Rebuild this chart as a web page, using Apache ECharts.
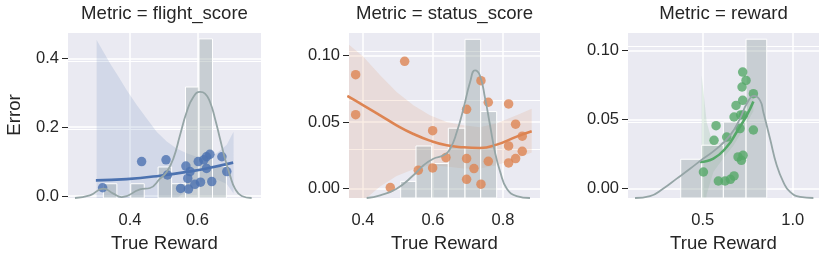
<!DOCTYPE html>
<html><head><meta charset="utf-8">
<script src="https://cdn.jsdelivr.net/npm/echarts@6/dist/echarts.min.js"></script>
<style>html,body{margin:0;padding:0;background:#fff}#c{width:830px;height:259px}</style>
</head><body><div id="c"></div>
<script>
// ---------- Panel 1: flight_score ----------
const flightTrue = [0.3189,0.4344,0.5067,0.5111,0.5656,0.5711,0.55,0.5733,0.5922,0.6089,0.6022,0.6189,0.6267,0.6367,0.6267,0.6422,0.6722,0.6867,0.5778];
const flightErr  = [0.024,0.100,0.105,0.061,0.087,0.051,0.022,0.020,0.034,0.040,0.100,0.105,0.114,0.121,0.080,0.042,0.114,0.071,0.071];
const flightFitX = [0.2989,0.39,0.4889,0.5878,0.6367,0.7056];
const flightFitY = [0.0455,0.049,0.059,0.073,0.082,0.097];
const flightBandX = [0.3011,0.3211,0.3411,0.3656,0.39,0.42,0.4489,0.4789,0.5089,0.5378,0.5678,0.5978,0.6267,0.6567,0.6867,0.7067];
const flightBandHi = [0.453,0.419,0.385,0.347,0.308,0.264,0.226,0.187,0.158,0.138,0.124,0.114,0.114,0.124,0.149,0.187];
const flightBandLo = [-0.362,-0.327,-0.291,-0.251,-0.21,-0.16,-0.116,-0.071,-0.036,-0.008,0.016,0.036,0.046,0.048,0.035,0.007];
const flightBins = [0.3211,0.3611,0.4022,0.4422,0.4833,0.5233,0.5644,0.6044,0.6444,0.6856];
const flightDensity = [1.04,0,1.04,0,2.26,1.04,8.09,11.6,2.3];
const flightKdeX = [0.237,0.2811,0.321,0.3507,0.3753,0.4297,0.4592,0.4889,0.5087,0.5284,0.5481,0.5679,0.5877,0.6074,0.6222,0.637,0.6519,0.6667,0.6814,0.6963,0.7111,0.7309,0.7604];
const flightKdeY = [0,0.19,0.68,0.32,0.07,0.63,0.73,1.41,1.90,2.87,4.57,6.27,7.36,7.73,7.61,7.0,5.78,4.32,2.87,1.65,0.68,0.15,0];
const flightXTicks = [0.4,0.6];
const flightYTicks = [0,0.2,0.4];

// ---------- Panel 2: status_score ----------
const statusTrue = [0.379,0.379,0.519,0.478,0.558,0.599,0.599,0.637,0.696,0.696,0.696,0.717,0.737,0.737,0.758,0.758,0.816,0.836,0.855,0.816,0.855,0.836,0.816];
const statusErr  = [0.0855,0.0555,0.0955,0.0008,0.0138,0.0155,0.0435,0.0233,0.0595,0.0225,0.007,0.015,0.081,0.0033,0.0648,0.0205,0.0635,0.0483,0.0393,0.032,0.028,0.0225,0.0193];
const statusFitX = [0.355,0.401,0.449,0.496,0.544,0.591,0.639,0.687,0.734,0.782,0.839,0.882];
const statusFitY = [0.0695,0.0625,0.055,0.0475,0.041,0.036,0.0325,0.031,0.0305,0.033,0.039,0.043];
const statusBandX = statusFitX;
const statusBandHi = [0.109,0.099,0.085,0.0725,0.0625,0.055,0.05,0.0475,0.046,0.049,0.055,0.06];
const statusBandLo = [-0.02,-0.009,0.0015,0.0095,0.0145,0.0175,0.0165,0.015,0.015,0.0175,0.0225,0.027];
const statusBins = [0.5076,0.5514,0.5962,0.6438,0.6914,0.7362,0.7819];
const statusDensity = [0.68,2.13,1.41,2.86,6.5,3.54];
const statusKdeX = [0.4105,0.449,0.496,0.544,0.573,0.601,0.630,0.649,0.668,0.687,0.706,0.720,0.734,0.749,0.763,0.777,0.792,0.811,0.839,0.877];
const statusKdeY = [0,0.11,0.38,0.93,1.34,1.61,1.75,2.02,2.70,3.66,4.75,5.23,5.02,4.07,2.98,1.88,1.07,0.38,0.08,0];
const statusXTicks = [0.4,0.6,0.8];
const statusYTicks = [0,0.05,0.1];

// ---------- Panel 3: reward ----------
const rewardTrue = [0.504,0.5629,0.5741,0.5870,0.6241,0.6333,0.6537,0.6741,0.6852,0.6741,0.7074,0.7111,0.7259,0.7185,0.7222,0.7407,0.7222,0.6963,0.7148,0.7241,0.7815,0.7815];
const rewardErr  = [0.012,0.0349,0.0455,0.0055,0.0055,0.0373,0.0067,0.0092,0.0602,0.0518,0.0434,0.0533,0.0533,0.0735,0.0843,0.0783,0.0639,0.0229,0.0205,0.0241,0.0687,0.0424];
const rewardFitX = [0.4852,0.5593,0.6333,0.6889,0.7444,0.7815];
const rewardFitY = [0.0193,0.0217,0.0301,0.041,0.053,0.0631];
const rewardBandX = [0.4944,0.5222,0.5593,0.6148,0.6704,0.7259,0.7815];
const rewardBandHi = [0.082,0.048,0.031,0.034,0.043,0.056,0.071];
const rewardBandLo = [-0.04,-0.004,0.012,0.022,0.031,0.043,0.056];
const rewardBins = [0.3778,0.4944,0.6148,0.7407,0.8556];
const rewardDensity = [1.02,1.39,2.0,4.18];
const rewardKdeX = [0.1241,0.2074,0.2815,0.3556,0.4296,0.5037,0.5778,0.6519,0.7074,0.7444,0.7852,0.8185,0.837,0.8741,0.9111,0.9481,0.9852,1.0407,1.1148];
const rewardKdeY = [0,0.05,0.25,0.51,0.77,1.04,1.30,1.65,2.09,2.48,2.69,2.57,2.26,1.56,0.86,0.42,0.16,0.03,0];
const rewardXTicks = [0.5,1.0];
const rewardYTicks = [0,0.05,0.1];

const FONT = '"Liberation Sans", Arial, sans-serif';
const TXT = '#262626';
const KDE_COLOR = '#95a5a6';

const panels = [
  {title:'Metric = flight_score', color:'#4C72B0', x:flightTrue, y:flightErr, fitX:flightFitX, fitY:flightFitY,
   bandX:flightBandX, bandHi:flightBandHi, bandLo:flightBandLo, bins:flightBins, dens:flightDensity, kdeX:flightKdeX, kdeY:flightKdeY,
   xTicks:flightXTicks, yTicks:flightYTicks, xr:[0.2163,0.7881], yr:[-0.0058,0.4764], xStep:0.2, yStep:0.2, yDec:1,
   secMax:12.1, secStep:5, left:68, width:193},
  {title:'Metric = status_score', color:'#DD8452', x:statusTrue, y:statusErr, fitX:statusFitX, fitY:statusFitY,
   bandX:statusBandX, bandHi:statusBandHi, bandLo:statusBandLo, bins:statusBins, dens:statusDensity, kdeX:statusKdeX, kdeY:statusKdeY,
   xTicks:statusXTicks, yTicks:statusYTicks, xr:[0.36,0.9057], yr:[-0.00705,0.1175], xStep:0.2, yStep:0.05, yDec:2,
   secMax:6.8, secStep:2, left:349, width:191},
  {title:'Metric = reward', color:'#55A868', x:rewardTrue, y:rewardErr, fitX:rewardFitX, fitY:rewardFitY,
   bandX:rewardBandX, bandHi:rewardBandHi, bandLo:rewardBandLo, bins:rewardBins, dens:rewardDensity, kdeX:rewardKdeX, kdeY:rewardKdeY,
   xTicks:rewardXTicks, yTicks:rewardYTicks, xr:[0.085,1.146], yr:[-0.0068,0.1133], xStep:0.5, yStep:0.05, yDec:2,
   secMax:4.37, secStep:2, left:628, width:191}
];
const TOP = 32, HEIGHT = 166;

const zip = (a,b) => a.map((v,i)=>[v,b[i]]);

const grid = [], xAxis = [], yAxis = [], series = [], graphic = [];
panels.forEach((p,i) => {
  grid.push({left:p.left, top:TOP, width:p.width, height:HEIGHT, show:true, backgroundColor:'#EAEAF2',
    borderWidth:0, containLabel:false, outerBoundsMode:'none'});
  xAxis.push({type:'value', gridIndex:i, min:p.xr[0], max:p.xr[1], minInterval:p.xStep, maxInterval:p.xStep,
    axisLine:{show:false}, axisTick:{show:false, customValues:p.xTicks},
    axisLabel:{customValues:p.xTicks, formatter:v=>(+v).toFixed(1), fontSize:16.5, color:TXT, fontFamily:FONT, margin:14},
    splitLine:{show:true, lineStyle:{color:'#ffffff', width:1.5}},
    name:'True Reward', nameLocation:'middle', nameGap:35,
    nameTextStyle:{fontSize:18.6, color:TXT, fontFamily:FONT}});
  yAxis.push({type:'value', gridIndex:i, position:'left', min:p.yr[0], max:p.yr[1], minInterval:p.yStep, maxInterval:p.yStep,
    axisLine:{show:false}, axisTick:{show:true, length:6, customValues:p.yTicks, lineStyle:{color:TXT, width:1}},
    axisLabel:{customValues:p.yTicks, formatter:v=>(+v).toFixed(p.yDec), fontSize:16.5, color:TXT, fontFamily:FONT, margin:9},
    splitLine:{show:true, lineStyle:{color:'#ffffff', width:1.5}}});
  yAxis.push({type:'value', gridIndex:i, position:'right', min:0, max:p.secMax, interval:p.secStep,
    axisLine:{show:false}, axisTick:{show:false}, axisLabel:{show:false},
    splitLine:{show:true, lineStyle:{color:'#ffffff', width:1.2}}});
  const yi = 2*i, ys = 2*i+1;
  // confidence band as polygon through the axes' scales
  const bandPts = zip(p.bandX, p.bandHi).concat(zip(p.bandX, p.bandLo).reverse());
  series.push({type:'custom', xAxisIndex:i, yAxisIndex:yi, data:[[p.bandX[0], p.bandHi[0]]], silent:true,
    renderItem:(params, api) => {
      const cs = params.coordSys;
      return {type:'polygon', shape:{points:bandPts.map(q=>api.coord(q))},
        style:{fill:p.color, opacity:0.15},
        clipPath:{type:'rect', shape:{x:cs.x, y:cs.y, width:cs.width, height:cs.height}}};
    }});
  series.push({type:'scatter', xAxisIndex:i, yAxisIndex:yi, data:zip(p.x, p.y), symbolSize:9.5,
    itemStyle:{color:p.color, opacity:0.8}});
  series.push({type:'line', xAxisIndex:i, yAxisIndex:yi, data:zip(p.fitX, p.fitY), symbol:'none', smooth:true,
    lineStyle:{color:p.color, width:2.6}});
  const histData = p.dens.map((d,k)=>[p.bins[k], p.bins[k+1], d]).filter(r=>r[2]>0);
  series.push({type:'custom', xAxisIndex:i, yAxisIndex:ys, data:histData, encode:{x:[0,1], y:2},
    renderItem:(params, api) => {
      const a = api.coord([api.value(0), api.value(2)]);
      const b = api.coord([api.value(1), 0]);
      return {type:'rect', shape:{x:a[0], y:a[1], width:b[0]-a[0], height:b[1]-a[1]},
        style:{fill:'rgba(149,165,166,0.4)', stroke:'#ffffff', lineWidth:1}};
    }});
  series.push({type:'line', xAxisIndex:i, yAxisIndex:ys, data:zip(p.kdeX, p.kdeY), symbol:'none', smooth:true,
    lineStyle:{color:KDE_COLOR, width:1.8}});
  graphic.push({type:'text', x:p.left + p.width/2, y:13.5,
    style:{text:p.title, fill:TXT, font:'18.6px ' + FONT, textAlign:'center', textVerticalAlign:'middle', align:'center', verticalAlign:'middle'}});
});
graphic.push({type:'text', x:15, y:TOP + HEIGHT/2, rotation:Math.PI/2,
  style:{text:'Error', fill:TXT, font:'18.6px ' + FONT, textAlign:'center', textVerticalAlign:'middle', align:'center', verticalAlign:'middle'}});

const chart = echarts.init(document.getElementById('c'), null, {renderer:'canvas'});
chart.setOption({animation:false, backgroundColor:'#ffffff', grid, xAxis, yAxis, series, graphic});
</script></body></html>
